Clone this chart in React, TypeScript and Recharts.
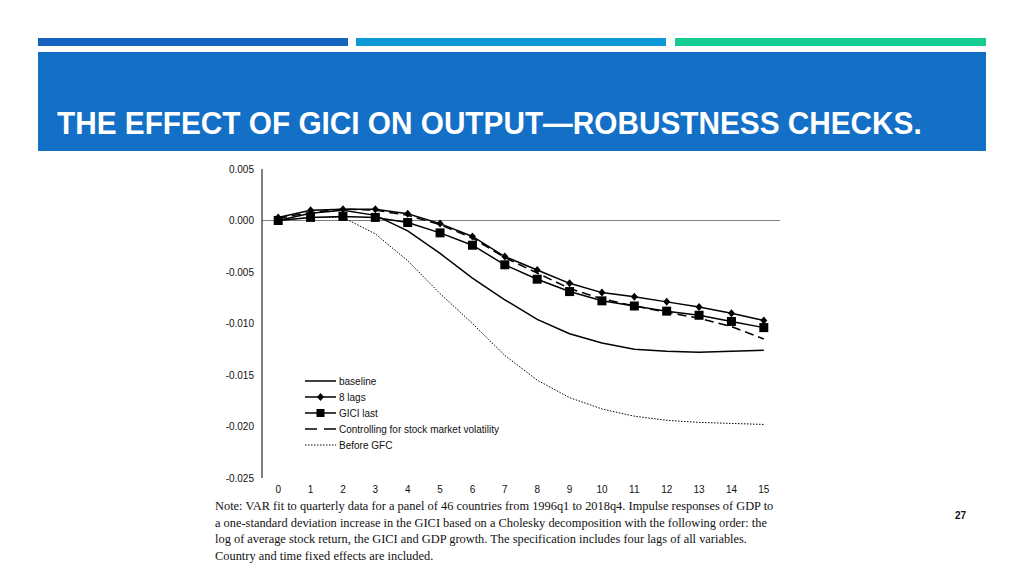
import { LineChart, Line, XAxis, YAxis, ReferenceLine, Legend } from 'recharts'

const horizons = [0, 1, 2, 3, 4, 5, 6, 7, 8, 9, 10, 11, 12, 13, 14, 15]
const baseline = [0, 0.0007, 0.001, 0.0005, -0.001, -0.0032, -0.0056, -0.0077, -0.0096, -0.011, -0.0119, -0.0125, -0.0127, -0.0128, -0.0127, -0.0126]
const eightLags = [0.0003, 0.001, 0.0011, 0.0011, 0.00065, -0.0003, -0.00155, -0.0035, -0.0048, -0.0061, -0.007, -0.0074, -0.0079, -0.0084, -0.009, -0.0097]
const giciLast = [0, 0.0003, 0.0004, 0.0003, -0.0002, -0.0012, -0.0024, -0.0043, -0.0057, -0.0069, -0.0078, -0.0083, -0.0088, -0.0092, -0.0098, -0.0104]
const controlling = [0.0002, 0.0008, 0.0011, 0.001, 0.0005, -0.0004, -0.0017, -0.0036, -0.0051, -0.0066, -0.0076, -0.0083, -0.0089, -0.0095, -0.0103, -0.0115]
const beforeGfc = [0, 0.0003, 0.0003, -0.0013, -0.0039, -0.0071, -0.01, -0.0131, -0.0155, -0.0172, -0.0183, -0.019, -0.0194, -0.0196, -0.0197, -0.0198]
const yTicks = [0.005, 0, -0.005, -0.01, -0.015, -0.02, -0.025]

const noteLines = [
  'Note: VAR fit to quarterly data for a panel of 46 countries from 1996q1 to 2018q4. Impulse responses of GDP to',
  'a one-standard deviation increase in the GICI based on a Cholesky decomposition with the following order: the',
  'log of average stock return, the GICI and GDP growth. The specification includes four lags of all variables.',
  'Country and time fixed effects are included.',
]

const data = horizons.map((h, i) => ({
  h,
  baseline: baseline[i],
  lags8: eightLags[i],
  gici: giciLast[i],
  ctrl: controlling[i],
  gfc: beforeGfc[i],
}))

const Diamond = (props: any) => {
  const { cx, cy } = props
  if (cx == null || cy == null) return null
  return <polygon points={`${cx},${cy - 4} ${cx + 3.5},${cy} ${cx},${cy + 4} ${cx - 3.5},${cy}`} fill="#000" />
}

const Square = (props: any) => {
  const { cx, cy } = props
  if (cx == null || cy == null) return null
  return <rect x={cx - 4.5} y={cy - 4.5} width={9} height={9} fill="#000" />
}

const legendRows = [
  { key: 'baseline', dash: undefined, width: 1.5, mark: null },
  { key: 'lags8', dash: undefined, width: 1.5, mark: 'diamond' },
  { key: 'gici', dash: undefined, width: 1.5, mark: 'square' },
  { key: 'ctrl', dash: '12 7', width: 1.5, mark: null },
  { key: 'gfc', dash: '1.5 1.5', width: 1, mark: null },
]

const LegendBox = (props: any) => {
  const payload = props.payload || []
  return (
    <div style={{ fontFamily: 'Liberation Sans, Arial, sans-serif', fontSize: 10, color: '#111' }}>
      {legendRows.map((row) => {
        const p = payload.find((q: any) => q.dataKey === row.key)
        if (!p) return null
        return (
          <div key={row.key} style={{ display: 'flex', alignItems: 'center', height: 16 }}>
            <svg width={32} height={10}>
              <line x1={0} y1={5} x2={31} y2={5} stroke="#000" strokeWidth={row.width} strokeDasharray={row.dash} />
              {row.mark === 'diamond' && <polygon points="15.5,1 19,5 15.5,9 12,5" fill="#000" />}
              {row.mark === 'square' && <rect x={11.5} y={1} width={8} height={8} fill="#000" />}
            </svg>
            <span style={{ marginLeft: 2 }}>{p.value}</span>
          </div>
        )
      })}
    </div>
  )
}

export default function App() {
  return (
    <div style={{ position: 'absolute', left: 0, top: 0, width: 1024, height: 576, background: '#fff', overflow: 'hidden' }}>
      <div style={{ position: 'absolute', left: 38, top: 38, width: 310, height: 8, background: '#1562c0' }} />
      <div style={{ position: 'absolute', left: 356, top: 38, width: 310, height: 8, background: '#0e98d6' }} />
      <div style={{ position: 'absolute', left: 675, top: 38, width: 311, height: 8, background: '#15cc93' }} />
      <div style={{ position: 'absolute', left: 38, top: 52, width: 948, height: 99, background: '#1370c6' }} />
      <div
        style={{
          position: 'absolute',
          left: 57,
          top: 104,
          color: '#fff',
          fontFamily: '"Liberation Sans", Arial, sans-serif',
          fontWeight: 'bold',
          fontSize: 32,
          lineHeight: '38px',
          whiteSpace: 'nowrap',
          transform: 'scaleX(0.93)',
          transformOrigin: 'left center',
        }}
      >
        THE EFFECT OF GICI ON OUTPUT—ROBUSTNESS CHECKS.
      </div>

      <div style={{ position: 'absolute', left: 200, top: 160 }}>
        <LineChart width={600} height={340} data={data} margin={{ top: 9, right: 20, left: 0, bottom: 0 }}>
          <XAxis
            dataKey="h"
            type="number"
            domain={[-0.5, 15.5]}
            ticks={horizons}
            axisLine={false}
            tickLine={false}
            height={22}
            tick={{ fontSize: 10, fill: '#111', fontFamily: 'Liberation Sans, Arial, sans-serif' }}
          />
          <YAxis
            type="number"
            domain={[-0.025, 0.005]}
            ticks={yTicks}
            width={62}
            axisLine={{ stroke: '#000', strokeWidth: 1 }}
            tickLine={false}
            tickFormatter={(v: number) => v.toFixed(3)}
            tick={{ fontSize: 10, fill: '#111', fontFamily: 'Liberation Sans, Arial, sans-serif' }}
          />
          <ReferenceLine y={0} stroke="#808080" strokeWidth={1} />
          <Legend
            layout="vertical"
            verticalAlign="middle"
            align="center"
            content={<LegendBox />}
            wrapperStyle={{ left: 105, top: 213, width: 260 }}
          />
          <Line name="baseline" dataKey="baseline" stroke="#000" strokeWidth={1.5} dot={false} isAnimationActive={false} />
          <Line name="8 lags" dataKey="lags8" stroke="#000" strokeWidth={1.5} dot={<Diamond />} isAnimationActive={false} />
          <Line name="GICI last" dataKey="gici" stroke="#000" strokeWidth={1.5} dot={<Square />} isAnimationActive={false} />
          <Line name="Controlling for stock market volatility" dataKey="ctrl" stroke="#000" strokeWidth={1.5} strokeDasharray="9 5" dot={false} isAnimationActive={false} />
          <Line name="Before GFC" dataKey="gfc" stroke="#000" strokeWidth={1} strokeDasharray="1.5 1.5" dot={false} isAnimationActive={false} />
        </LineChart>
      </div>

      <div
        style={{
          position: 'absolute',
          left: 215,
          top: 498,
          fontFamily: '"Liberation Serif", "Times New Roman", serif',
          fontSize: 12.4,
          lineHeight: '16.5px',
          color: '#111',
          whiteSpace: 'nowrap',
        }}
      >
        {noteLines.map((t) => (
          <div key={t}>{t}</div>
        ))}
      </div>
      <div
        style={{
          position: 'absolute',
          left: 955,
          top: 510,
          fontFamily: '"Liberation Sans", Arial, sans-serif',
          fontWeight: 'bold',
          fontSize: 10,
          color: '#111',
        }}
      >
        27
      </div>
    </div>
  )
}
